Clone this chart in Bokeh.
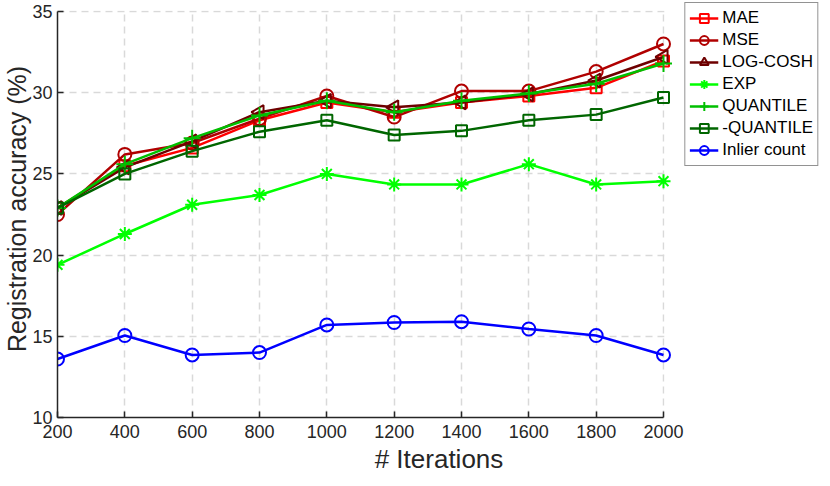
import math
from bokeh.plotting import figure
from bokeh.models import Legend, FixedTicker, BoxAnnotation, ColumnDataSource
from bokeh.embed import file_html
from bokeh.resources import INLINE

iterations = [200, 400, 600, 800, 1000, 1200, 1400, 1600, 1800, 2000]
mae = [22.9, 25.5, 26.6, 28.3, 29.4, 28.8, 29.4, 29.8, 30.3, 31.95]
mse = [22.5, 26.2, 26.9, 28.4, 29.8, 28.5, 30.1, 30.1, 31.3, 33.0]
log_cosh = [22.9, 25.4, 27.0, 28.8, 29.5, 29.1, 29.4, 29.9, 30.75, 32.2]
exp_loss = [19.4, 21.3, 23.1, 23.7, 25.0, 24.35, 24.35, 25.6, 24.35, 24.55]
quantile = [22.9, 25.6, 27.2, 28.6, 29.5, 28.8, 29.5, 29.95, 30.55, 31.8]
neg_quantile = [22.9, 25.0, 26.4, 27.6, 28.3, 27.4, 27.65, 28.3, 28.65, 29.7]
inlier_count = [13.6, 15.05, 13.85, 14.0, 15.7, 15.85, 15.9, 15.45, 15.05, 13.85]

x_ticks = [200, 400, 600, 800, 1000, 1200, 1400, 1600, 1800, 2000]
y_ticks = [10, 15, 20, 25, 30, 35]

FONT = "Liberation Sans"
TXT = "#262626"

# frame geometry (pixels)
FRAME_W, FRAME_H = 763, 417
X_SPAN_PX = 606          # pixels from x=200 to x=2000
Y_TOP_PX = 11            # pixels from frame top to y=35
x_max = x_ticks[-1] + (FRAME_W - X_SPAN_PX) * (x_ticks[-1] - x_ticks[0]) / X_SPAN_PX
y_max = y_ticks[-1] + Y_TOP_PX * (y_ticks[-1] - y_ticks[0]) / (FRAME_H - Y_TOP_PX)

p = figure(frame_width=FRAME_W, frame_height=FRAME_H, output_backend="svg", toolbar_location=None,
           x_range=(x_ticks[0], x_max), y_range=(y_ticks[0], y_max),
           min_border_left=0, min_border_right=0, min_border_top=0, min_border_bottom=0)
p.outline_line_color = None
p.background_fill_color = "white"

for ax in (p.xaxis[0], p.yaxis[0]):
    ax.axis_line_color = TXT
    ax.axis_line_width = 1.5
    ax.major_tick_line_color = TXT
    ax.major_tick_line_width = 1.5
    ax.major_tick_in = 6
    ax.major_tick_out = 0
    ax.minor_tick_line_color = None
    ax.major_label_text_font = FONT
    ax.major_label_text_font_size = "18px"
    ax.major_label_text_color = TXT
    ax.axis_label_text_font = FONT
    ax.axis_label_text_font_style = "normal"
    ax.axis_label_text_color = TXT

p.xaxis[0].ticker = FixedTicker(ticks=x_ticks)
p.yaxis[0].ticker = FixedTicker(ticks=y_ticks)
p.xaxis[0].bounds = (x_ticks[0], x_ticks[-1])
p.yaxis[0].bounds = (y_ticks[0], y_ticks[-1])
p.xaxis[0].axis_label = "# Iterations"
p.yaxis[0].axis_label = "Registration accuracy (%)"
p.xaxis[0].axis_label_text_font_size = "26px"
p.yaxis[0].axis_label_text_font_size = "25px"
p.xaxis[0].major_label_standoff = 7
p.xaxis[0].axis_label_standoff = 3
p.yaxis[0].major_label_standoff = 5
p.yaxis[0].axis_label_standoff = -2

for g in (p.xgrid[0], p.ygrid[0]):
    g.grid_line_color = "#d9d9d9"
    g.grid_line_width = 1.5
    g.grid_line_dash = "7 5"

# white masks so the grid stops at the last ticks
p.add_layout(BoxAnnotation(left=x_ticks[-1] + 3, fill_color="white", fill_alpha=1.0,
                           line_color=None, level="underlay"))
p.add_layout(BoxAnnotation(bottom=y_ticks[-1] + 0.06, fill_color="white", fill_alpha=1.0,
                           line_color=None, level="underlay"))

series = [
    ("MAE", mae, "#ff0000", "square", 11, 0.0),
    ("MSE", mse, "#b00000", "circle", 13, 0.0),
    ("LOG-COSH", log_cosh, "#6e0000", "triangle", 14, math.pi / 2),
    ("EXP", exp_loss, "#00ff00", "asterisk", 14, 0.0),
    ("QUANTILE", quantile, "#00bf00", "cross", 17, 0.0),
    ("-QUANTILE", neg_quantile, "#006600", "square", 11, 0.0),
    ("Inlier count", inlier_count, "#0000ff", "circle", 13, 0.0),
]

items = []
for label, vals, color, marker, size, angle in series:
    src = ColumnDataSource(dict(x=iterations, y=vals, a=[angle] * len(vals)))
    r1 = p.line("x", "y", source=src, line_color=color, line_width=2.5)
    r2 = p.scatter("x", "y", source=src, marker=marker, size=size, angle="a",
                   line_color=color, line_width=2, fill_color=None)
    items.append((label, [r1, r2]))

legend = Legend(items=items, location="top_right")
legend.label_text_font = FONT
legend.label_text_font_size = "17px"
legend.label_text_color = "black"
legend.glyph_width = 29
legend.glyph_height = 22
legend.label_height = 22
legend.spacing = 0
legend.padding = 4
legend.margin = 2
legend.label_standoff = 4
legend.border_line_color = TXT
legend.border_line_width = 1
legend.background_fill_color = "white"
legend.background_fill_alpha = 1.0
p.add_layout(legend, "center")

open("out.html", "w").write(file_html(p, INLINE))
